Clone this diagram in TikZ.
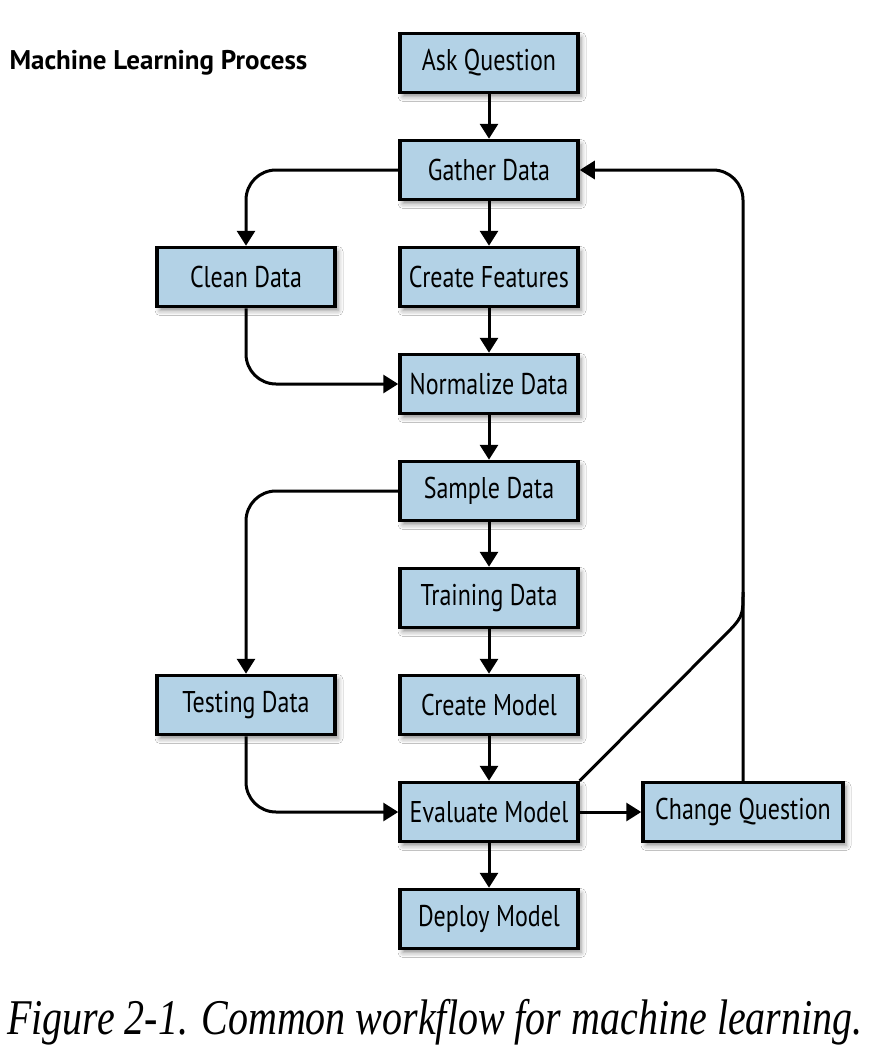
\documentclass[tikz,border=0pt]{standalone}
\usepackage{fontspec}
\setmainfont{Liberation Serif}
\newfontfamily\boxfont[FakeStretch=0.8]{PT Sans}
\newfontfamily\titlefont{PT Sans}
\newfontfamily\capfont[FakeStretch=0.8]{Liberation Serif}
\usetikzlibrary{arrows.meta,shadows.blur}
\definecolor{boxblue}{RGB}{179,210,230}

\begin{document}
\begin{tikzpicture}[x=1pt,y=-1pt]
\tikzstyle{every node}=[font=\boxfont\fontsize{30}{33}\selectfont]
\tikzstyle{stepbox}=[draw=black, line width=3.5pt, fill=boxblue, minimum width=178pt, minimum height=59pt, inner sep=0pt,
  blur shadow={shadow xshift=3pt, shadow yshift=-4pt, shadow blur radius=5pt, shadow opacity=45}]
\tikzstyle{flow}=[line width=3pt, -{Triangle[length=15pt,width=18pt]}, rounded corners=30pt]
\useasboundingbox[fill=white] (0,0) rectangle (868,1060);
% title and caption
\node[anchor=west, font=\titlefont\bfseries\fontsize{27}{30}\selectfont] (title) at (6,63) {Machine Learning Process};
\node[font=\capfont\itshape\fontsize{50}{54}\selectfont] (caption) at (435,1022) {Figure 2-1. Common workflow for machine learning.};
% main column
\node[stepbox] (ask) at (489,63) {Ask Question};
\node[stepbox] (gather) at (489,170) {Gather Data};
\node[stepbox] (features) at (489,277) {Create Features};
\node[stepbox] (normalize) at (489,384) {Normalize Data};
\node[stepbox] (sample) at (489,491) {Sample Data};
\node[stepbox] (training) at (489,598) {Training Data};
\node[stepbox] (create) at (489,705) {Create Model};
\node[stepbox] (evaluate) at (489,812) {Evaluate Model};
\node[stepbox] (deploy) at (489,919) {Deploy Model};
% side boxes
\node[stepbox] (clean) at (246,277) {Clean Data};
\node[stepbox] (testing) at (246,705) {Testing Data};
\node[stepbox, minimum width=200pt] (change) at (743,812) {Change Question};
\coordinate (bend) at (722,638);
\coordinate (merge) at (743,592);
% connectors
\draw[flow] (ask) -- (gather);
\draw[flow] (gather.west) -| (clean.north);
\draw[flow] (gather) -- (features);
\draw[flow] (features) -- (normalize);
\draw[flow] (clean.south) |- (normalize.west);
\draw[flow] (normalize) -- (sample);
\draw[flow] (sample.west) -| (testing.north);
\draw[flow] (sample) -- (training);
\draw[flow] (training) -- (create);
\draw[flow] (create) -- (evaluate);
\draw[flow] (testing.south) |- (evaluate.west);
\draw[flow] (evaluate) -- (change);
\draw[flow] (evaluate) -- (deploy);
\draw[flow] (change.north) |- (gather.east);
\draw[line width=3pt] (evaluate.north east) -- (bend) .. controls (743,617) .. (merge);
\end{tikzpicture}
\end{document}
